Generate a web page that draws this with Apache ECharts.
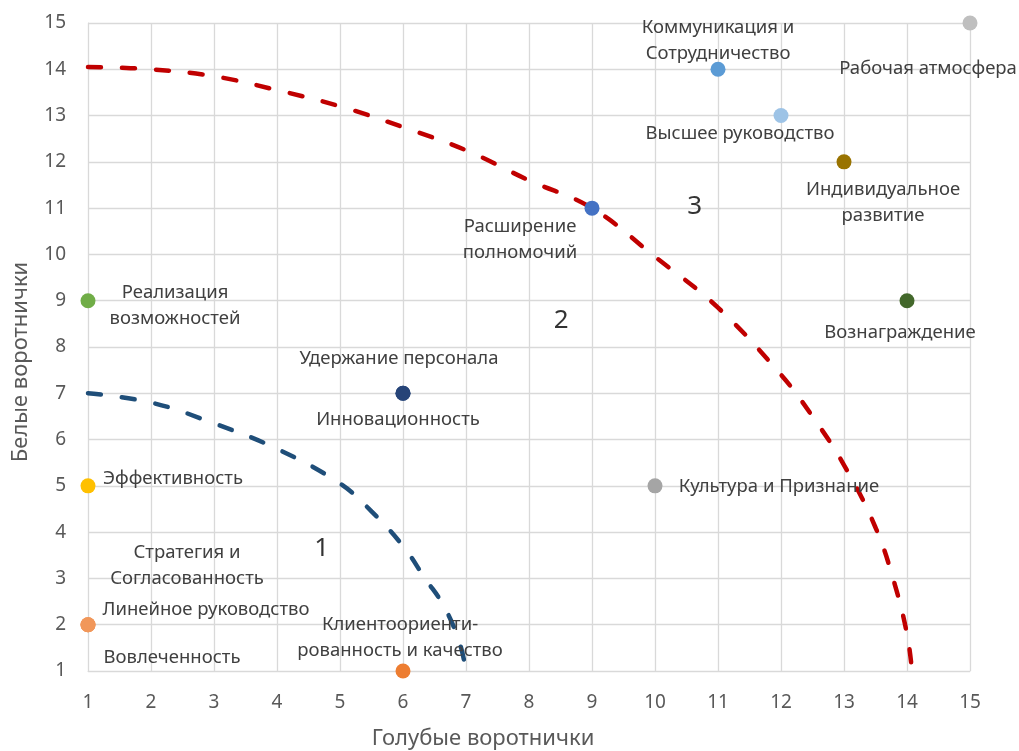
<!DOCTYPE html>
<html>
<head>
<meta charset="utf-8">
<script src="https://cdn.jsdelivr.net/npm/echarts@6/dist/echarts.min.js"></script>
<style>html,body{margin:0;padding:0;background:#fff;}#c{width:1019px;height:751px;}</style>
</head>
<body>
<div id="c"></div>
<script>
// ---- data ----
const pointNames = [
  'Рабочая атмосфера',
  'Коммуникация и\nСотрудничество',
  'Высшее руководство',
  'Индивидуальное\nразвитие',
  'Расширение\nполномочий',
  'Реализация\nвозможностей',
  'Вознаграждение',
  'Удержание персонала',
  'Инновационность',
  'Эффективность',
  'Культура и Признание',
  'Стратегия и\nСогласованность',
  'Линейное руководство',
  'Вовлеченность',
  'Клиентоориенти-\nрованность и качество'
];
const pointX = [15, 11, 12, 13, 9, 1, 14, 6, 6, 1, 10, 1, 1, 1, 6];
const pointY = [15, 14, 13, 12, 11, 9, 9, 7, 7, 5, 5, 2, 2, 2, 1];

const curve1X = [1, 2, 3, 4, 5, 5.5, 6, 6.35, 6.65, 6.9, 7];
const curve1Y = [7, 6.8, 6.35, 5.8, 5.05, 4.45, 3.7, 3.0, 2.4, 1.6, 1.0];

const curve2X = [1, 2, 3, 4, 5, 6, 7, 8, 9, 10, 11, 12, 12.5, 13, 13.5, 13.8, 14, 14.08];
const curve2Y = [14.05, 14.0, 13.85, 13.55, 13.2, 12.75, 12.25, 11.6, 11.0, 9.95, 8.85, 7.4, 6.5, 5.45, 4.1, 2.9, 1.8, 1.0];

const zoneNames = ['1', '2', '3'];
const zoneX = [4.71, 8.51, 10.63];
const zoneY = [3.64, 8.58, 11.03];

const xTicks = [1,2,3,4,5,6,7,8,9,10,11,12,13,14,15];
const yTicks = [1,2,3,4,5,6,7,8,9,10,11,12,13,14,15];

// ---- styles (kept separate from data) ----
const pointColors = ['#BFBFBF', '#5B9BD5', '#9DC3E6', '#997300', '#4472C4', '#70AD47', '#43682B',
  '#264478', '#264478', '#FFC000', '#A5A5A5', '#F1975A', '#F1975A', '#F1975A', '#ED7D31'];
const labelOffsets = [
  [-42, 46], [0, -29], [-41, 18], [39, 41], [-72, 32], [87, 5], [-7, 32],
  [-4, -35], [-5, 26], [85, -7], [124, 1], [99, -59], [118, -15], [84, 33], [-3, -33]
];

const font = 'Noto Sans, Open Sans, sans-serif';

const points = pointNames.map((n, i) => ({
  name: n,
  value: [pointX[i], pointY[i]],
  itemStyle: { color: pointColors[i], opacity: 1 },
  label: { offset: labelOffsets[i] }
}));

const chart = echarts.init(document.getElementById('c'));
chart.setOption({
  animation: false,
  backgroundColor: '#fff',
  grid: { left: 88, top: 23, width: 882, height: 648, containLabel: false, outerBoundsMode: 'none' },
  xAxis: {
    type: 'value', min: 1, max: 15, interval: 1,
    name: 'Голубые воротнички', nameLocation: 'middle', nameGap: 57,
    nameTextStyle: { color: '#595959', fontSize: 22, fontFamily: font, padding: [0, 92, 0, 0] },
    axisLine: { show: true, lineStyle: { color: '#D9D9D9' } },
    axisTick: { show: false },
    splitLine: { show: true, lineStyle: { color: '#D9D9D9', width: 1.3 } },
    axisLabel: { color: '#595959', fontSize: 19, fontFamily: font, margin: 22,
      formatter: v => xTicks.includes(v) ? String(v) : '' }
  },
  yAxis: {
    type: 'value', min: 1, max: 15, interval: 1,
    name: 'Белые воротнички', nameLocation: 'middle', nameGap: 56, nameRotate: 90,
    nameTextStyle: { color: '#595959', fontSize: 22, fontFamily: font, padding: [0, 30, 0, 0] },
    axisLine: { show: true, lineStyle: { color: '#D9D9D9' } },
    axisTick: { show: false },
    splitLine: { show: true, lineStyle: { color: '#D9D9D9', width: 1.3 } },
    axisLabel: { color: '#595959', fontSize: 19, fontFamily: font, margin: 22,
      formatter: v => yTicks.includes(v) ? String(v) : '' }
  },
  series: [
    {
      type: 'line', smooth: 0.4, symbol: 'none', z: 3,
      data: curve1X.map((x, i) => [x, curve1Y[i]]),
      lineStyle: { color: '#1F4E79', width: 4.5, type: [13, 21], cap: 'round' }
    },
    {
      type: 'line', smooth: 0.4, symbol: 'none', z: 3,
      data: curve2X.map((x, i) => [x, curve2Y[i]]),
      lineStyle: { color: '#C00000', width: 4.5, type: [13, 21], cap: 'round' }
    },
    {
      type: 'scatter', symbolSize: 15, z: 5,
      data: points,
      label: {
        show: true, position: 'inside', formatter: p => p.name,
        color: '#404040', fontSize: 18.5, fontFamily: font, lineHeight: 26,
        align: 'center', verticalAlign: 'middle'
      }
    },
    {
      type: 'scatter', symbolSize: 1, z: 4,
      itemStyle: { color: 'rgba(0,0,0,0)' },
      data: zoneNames.map((n, i) => ({ name: n, value: [zoneX[i], zoneY[i]] })),
      label: { show: true, position: 'inside', formatter: p => p.name,
        color: '#000', fontSize: 26, fontFamily: font }
    }
  ]
});
</script>
</body>
</html>
